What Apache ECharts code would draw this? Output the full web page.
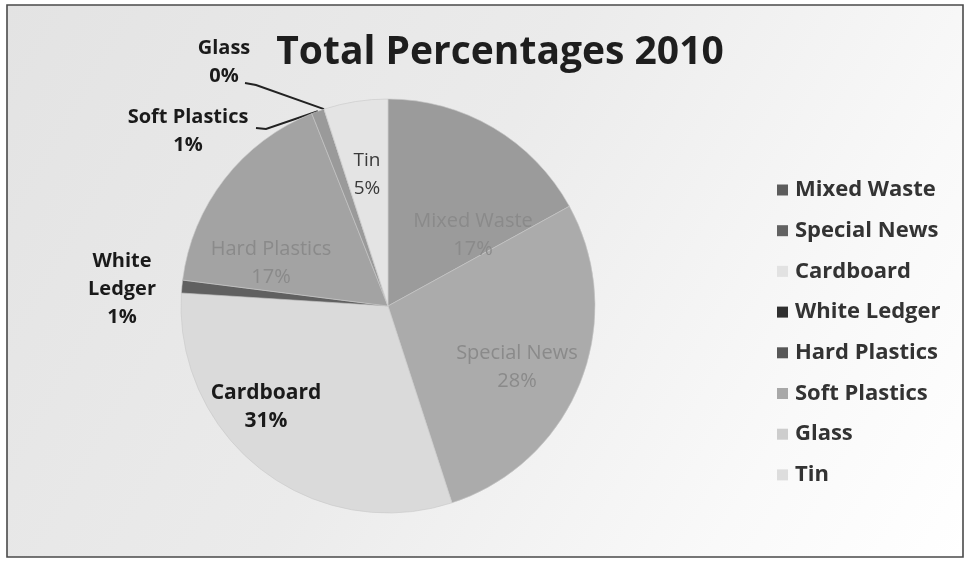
<!DOCTYPE html>
<html>
<head>
<meta charset="utf-8">
<script src="https://cdn.jsdelivr.net/npm/echarts@6/dist/echarts.min.js"></script>
<style>
  html, body { margin: 0; padding: 0; background: #ffffff; }
  #chart { width: 966px; height: 573px; }
</style>
</head>
<body>
<div id="chart"></div>
<script>
// Waste stream shares for 2010 (percent)
const categories = ['Mixed Waste', 'Special News', 'Cardboard', 'White Ledger', 'Hard Plastics', 'Soft Plastics', 'Glass', 'Tin'];
const shares = [17, 28, 31, 1, 17, 1, 0, 5];

// Slice fills and legend swatches (greyscale print)
const sliceColors = ['#9b9b9b', '#ababab', '#dadada', '#606060', '#a3a3a3', '#9a9a9a', '#cfcfcf', '#e4e4e4'];
const swatchColors = ['#5c5c5c', '#626262', '#e2e2e2', '#2f2f2f', '#575757', '#a8a8a8', '#cdcdcd', '#dddddd'];

// Label placement per slice: [x, y] centre of the label block
const labelSpots = [[473, 235], [517, 367], [266, 407], [122, 289], [271, 263], [188, 131], [224, 62], [367, 175]];
// Bend points of the leader lines for the small slices (label end last)
const leaderBends = [null, null, null, null, null, [[266, 129], [256, 128]], [[256, 85], [245, 83]], null];

const grey = { color: '#8a8a8a', fontWeight: 'normal', fontSize: 20 };
const dark = { color: '#1a1a1a', fontWeight: 'bold', fontSize: 20 };
const labelStyles = [grey, grey, Object.assign({}, dark, { fontSize: 21 }), dark, grey, dark, dark,
  { color: '#3a3a3a', fontWeight: 'normal', fontSize: 19 }];
const outsideLabel = [false, false, false, true, false, true, true, false];

const chart = echarts.init(document.getElementById('chart'), null, { renderer: 'canvas' });

const pieData = categories.map((name, i) => ({
  name: name,
  value: shares[i],
  itemStyle: { color: sliceColors[i] },
  label: Object.assign({ position: outsideLabel[i] ? 'outside' : 'inside' }, labelStyles[i]),
  labelLine: { show: !!leaderBends[i], length: 20, length2: 20, lineStyle: { color: '#222', width: 2 } }
}));

chart.setOption({
  animation: false,
  backgroundColor: 'transparent',
  graphic: [{
    type: 'rect',
    silent: true,
    z: -10,
    shape: { x: 7, y: 5, width: 956, height: 552 },
    style: {
      fill: new echarts.graphic.LinearGradient(0, 0, 1, 1, [
        { offset: 0, color: '#e3e3e3' },
        { offset: 0.45, color: '#ebebeb' },
        { offset: 0.8, color: '#f9f9f9' },
        { offset: 1, color: '#ffffff' }
      ]),
      stroke: '#4a4a4a',
      lineWidth: 1.6
    }
  }],
  title: {
    text: 'Total Percentages 2010',
    left: 495,
    top: 28,
    textAlign: 'center',
    textStyle: { fontFamily: 'Open Sans', fontWeight: 'bold', fontSize: 39, color: '#1e1e1e' }
  },
  legend: {
    orient: 'vertical',
    left: 772,
    top: 174,
    itemWidth: 11,
    itemHeight: 11,
    itemGap: 18.7,
    icon: 'rect',
    itemStyle: { borderWidth: 0 },
    textStyle: { fontFamily: 'Open Sans', fontWeight: 'bold', fontSize: 22, color: '#333', lineHeight: 22, padding: [0, 0, 0, 2] },
    data: categories.map((name, i) => ({ name: name, itemStyle: { color: swatchColors[i], borderWidth: 0 } }))
  },
  series: [{
    type: 'pie',
    center: [388, 306],
    radius: [0, 207],
    startAngle: 90,
    clockwise: true,
    avoidLabelOverlap: false,
    stillShowZeroSum: true,
    minShowLabelAngle: 0,
    itemStyle: { borderColor: '#c8c8c8', borderWidth: 0.6 },
    label: {
      show: true,
      fontFamily: 'Open Sans',
      lineHeight: 28,
      align: 'center',
      formatter: function (p) {
        if (p.dataIndex === 3) return 'White\nLedger\n' + p.value + '%';
        return p.name + '\n' + p.value + '%';
      }
    },
    labelLayout: function (params) {
      const i = params.dataIndex;
      const spot = labelSpots[i];
      const out = { x: spot[0], y: spot[1], align: 'center', verticalAlign: 'middle' };
      if (leaderBends[i] && params.labelLinePoints) {
        out.labelLinePoints = [params.labelLinePoints[0], leaderBends[i][0], leaderBends[i][1]];
      }
      return out;
    },
    data: pieData
  }]
});
</script>
</body>
</html>
